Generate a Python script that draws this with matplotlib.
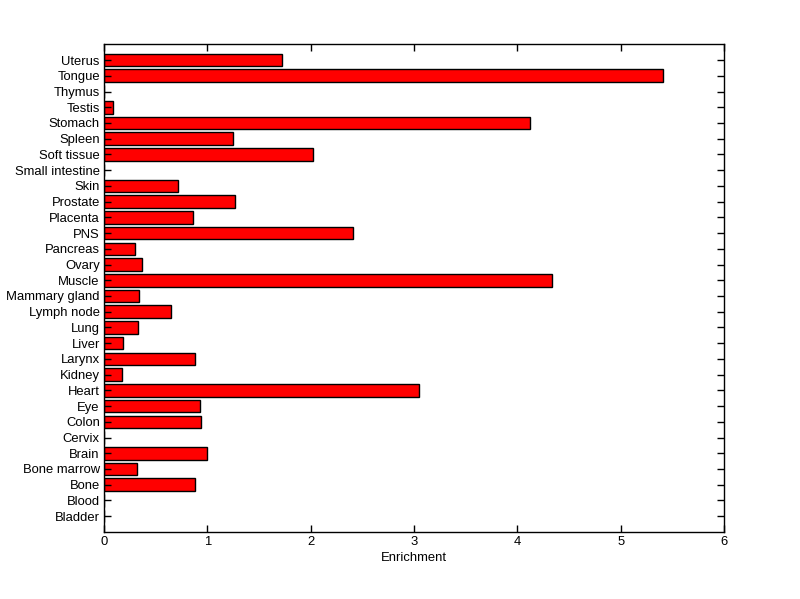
import matplotlib
matplotlib.use('Agg')
import matplotlib.pyplot as plt

tissues = ['Bladder', 'Blood', 'Bone', 'Bone marrow', 'Brain', 'Cervix', 'Colon',
           'Eye', 'Heart', 'Kidney', 'Larynx', 'Liver', 'Lung', 'Lymph node',
           'Mammary gland', 'Muscle', 'Ovary', 'Pancreas', 'PNS', 'Placenta',
           'Prostate', 'Skin', 'Small intestine', 'Soft tissue', 'Spleen',
           'Stomach', 'Testis', 'Thymus', 'Tongue', 'Uterus']
enrichment = [0, 0, 0.88, 0.32, 1.00, 0, 0.94,
              0.93, 3.05, 0.17, 0.88, 0.18, 0.33, 0.65,
              0.34, 4.34, 0.37, 0.30, 2.41, 0.86,
              1.27, 0.72, 0, 2.02, 1.25,
              4.12, 0.09, 0, 5.41, 1.72]

plt.rcParams['font.family'] = ['Liberation Sans', 'DejaVu Sans']
plt.rcParams['font.size'] = 9.4

fig = plt.figure(figsize=(8, 5.99), dpi=100)
ax = fig.add_axes([0.13, 0.112, 0.775, 0.814])

pos = list(range(1, len(tissues) + 1))
ax.barh(pos, enrichment, height=0.8, color='#ff0000', edgecolor='black', linewidth=1)

ax.set_xlim(0, 6)
ax.set_ylim(0, 31)
ax.set_yticks(pos)
ax.set_yticklabels(tissues)
ax.set_xticks(range(0, 7))
ax.tick_params(direction='in', top=True, right=True, length=5, width=1, pad=3, colors='black')
for s in ax.spines.values():
    s.set_linewidth(1)
ax.set_xlabel('Enrichment', labelpad=3)

fig.savefig('out.png', dpi=100)
